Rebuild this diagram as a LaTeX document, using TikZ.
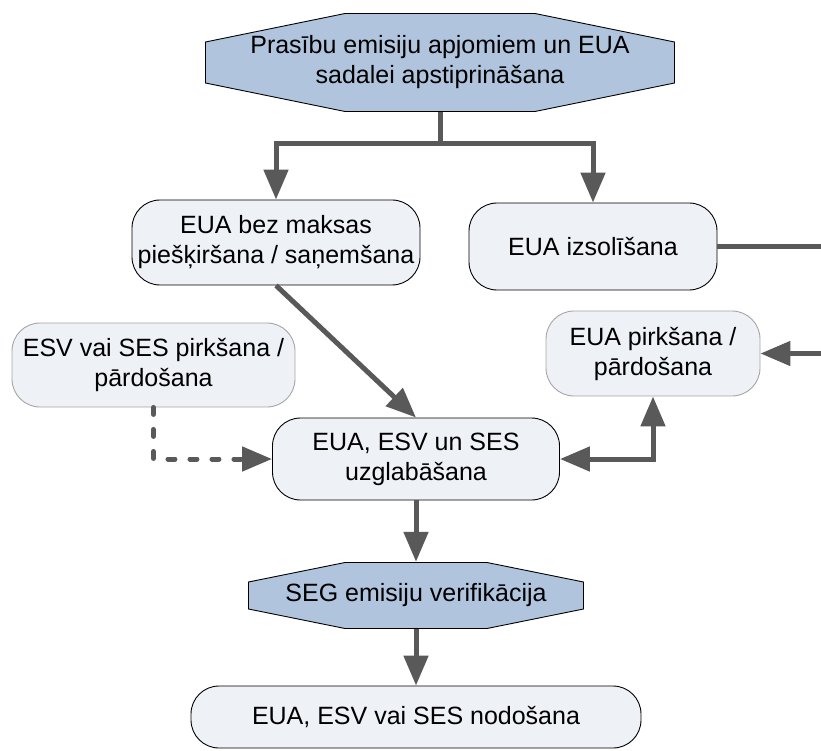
\documentclass[tikz,border=0pt]{standalone}
\usepackage{fontspec}
\setmainfont{Liberation Sans}
\usetikzlibrary{arrows.meta,calc}
\definecolor{octfill}{RGB}{176,196,222}
\definecolor{boxfill}{RGB}{238,241,246}
\definecolor{rim}{RGB}{165,165,165}
\definecolor{arrowgray}{RGB}{89,89,89}
\tikzset{
  every node/.style={font=\fontsize{25}{30}\selectfont, align=center, inner sep=0pt},
  % Kästen
  rbox/.style={draw=black, fill=boxfill, line width=0.9pt, rounded corners=28pt},
  tbox/.style={rbox, draw=rim},
  % Achteck: #1 = Abschrägung waagrecht, #2 = senkrecht (in pt)
  octbox/.style 2 args={draw=none,
    path picture={
      \filldraw[fill=octfill, draw=black, line width=0.9pt]
        ($(path picture bounding box.north west)+(#1pt,-0.5pt)$)
        -- ($(path picture bounding box.north east)+(-#1pt,-0.5pt)$)
        -- ($(path picture bounding box.north east)+(-0.5pt,-#2pt)$)
        -- ($(path picture bounding box.south east)+(-0.5pt,#2pt)$)
        -- ($(path picture bounding box.south east)+(-#1pt,0.5pt)$)
        -- ($(path picture bounding box.south west)+(#1pt,0.5pt)$)
        -- ($(path picture bounding box.south west)+(0.5pt,#2pt)$)
        -- ($(path picture bounding box.north west)+(0.5pt,-#2pt)$) -- cycle;}},
  % Verbindungen
  link/.style={arrowgray, line width=5pt, ->},
  dlink/.style={link, line cap=round, dash pattern=on 7pt off 15pt},
}

\begin{document}
\begin{tikzpicture}[x=1pt, y=-1pt, >={Triangle[length=30pt,width=24pt]}]
  \useasboundingbox (0,0) rectangle (821,751);
  % Kästen
  \node[octbox={140}{29}, minimum width=470, minimum height=99] (appr) at (440,62.5)
    {Prasību emisiju apjomiem un EUA\\sadalei apstiprināšana};
  \node[rbox, minimum width=288, minimum height=85] (bez) at (276,242.5)
    {EUA bez maksas\\piešķiršana / saņemšana};
  \node[rbox, minimum width=248, minimum height=87] (izsol) at (593,246.5) {EUA izsolīšana};
  \node[tbox, minimum width=283, minimum height=84] (esv) at (153.5,365)
    {ESV vai SES pirkšana /\\pārdošana};
  \node[tbox, minimum width=214, minimum height=85] (pirk) at (653,353.5)
    {EUA pirkšana /\\pārdošana};
  \node[rbox, minimum width=287, minimum height=82] (uzg) at (416,459)
    {EUA, ESV un SES\\uzglabāšana};
  \node[octbox={97}{20}, minimum width=336, minimum height=67] (seg) at (416,595.5)
    {SEG emisiju verifikācija};
  \node[rbox, minimum width=450, minimum height=62] (nod) at (416,717)
    {EUA, ESV vai SES nodošana};
  % Verbindungen
  \coordinate (split) at ($(appr.south)+(0,31)$);
  \coordinate (outa) at (821,246.5);
  \coordinate (inb) at (821,353.5);
  \draw[link, -] (appr.south) -- (split);
  \draw[link] (split) -| (bez.north);
  \draw[link] (split) -| (izsol.north);
  \draw[link] (bez.south) -- (uzg.north);
  \draw[dlink] (esv.south) |- (uzg.west);
  \draw[link, <->] (uzg.east) -| (pirk.south);
  \draw[link, -] (izsol.east) -- (outa);
  \draw[link] (inb) -- (pirk.east);
  \draw[link] (uzg.south) -- (seg.north);
  \draw[link] (seg.south) -- (nod.north);
\end{tikzpicture}
\end{document}
